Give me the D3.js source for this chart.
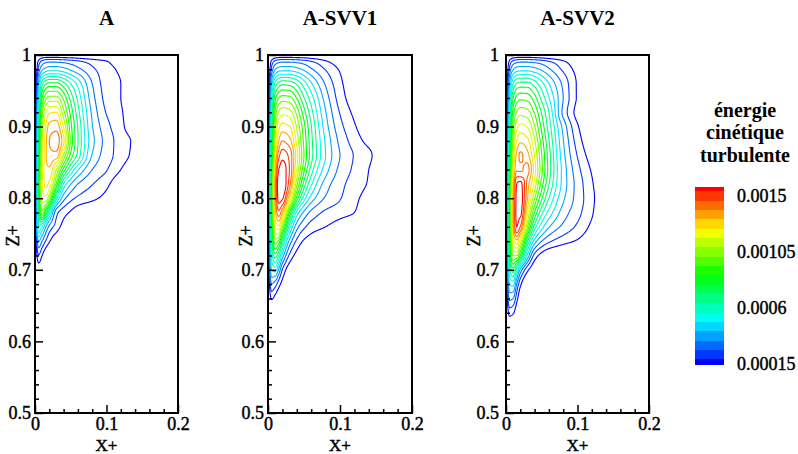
<!DOCTYPE html>
<html><head><meta charset="utf-8">
<script src="https://cdn.jsdelivr.net/npm/d3@7"></script>
<style>
body{margin:0;background:#fff}
svg{display:block}
text{font-family:"Liberation Serif","Times New Roman",Times,serif;fill:#000}
text.reg{stroke:#000;stroke-width:0.45px}
</style>
</head><body>
<svg id="chart" width="798" height="454"></svg>
<script>
// ---------------- DATA ----------------
const panelTitles = ["A", "A-SVV1", "A-SVV2"];
const xCols = [0, 0.005, 0.01, 0.015, 0.02, 0.03, 0.04, 0.05, 0.06, 0.08, 0.10, 0.12, 0.14, 0.16];
const zRows = [0.60, 0.62, 0.64, 0.66, 0.68, 0.70, 0.72, 0.74, 0.76, 0.78, 0.80, 0.82, 0.84, 0.86, 0.88, 0.90, 0.92, 0.94, 0.96, 0.98, 0.99, 1.00];
// turbulent kinetic energy, units of 1e-5, one row per zRows entry
const kA = [
 [0,0,0,0,0,0,0,0,0,0,0,0,0,0],
 [0,0,0,0,0,0,0,0,0,0,0,0,0,0],
 [0,1,1,0,0,0,0,0,0,0,0,0,0,0],
 [0,2,2,1,0,0,0,0,0,0,0,0,0,0],
 [0,4,3,2,1,0,0,0,0,0,0,0,0,0],
 [0,10,7,4,2,0,0,0,0,0,0,0,0,0],
 [0,22,15,9,5,2,0,0,0,0,0,0,0,0],
 [0,38,30,22,16,8,4,2,1,0,0,0,0,0],
 [0,60,52,38,28,19,12,8,5,2,1,0,0,0],
 [0,62,95,75,55,25,18,14,10,6,3,1,0,0],
 [0,70,108,110,98,55,33,25,21,17,12,5,1,0],
 [0,72,112,122,118,88,52,38,30,23,17,8,3,0],
 [0,70,110,125,126,105,80,60,46,30,23,15,6,1],
 [0,68,108,126,133,132,104,80,65,37,26,19,12,3],
 [0,65,105,125,135,139,122,88,68,40,27,19,13,3],
 [0,62,100,120,130,132,112,85,67,38,25,17,9,2],
 [0,58,95,112,119,120,100,80,63,36,22,16,8,2],
 [0,50,82,95,100,100,88,72,58,33,20,15,6,1],
 [0,40,65,74,77,77,70,60,50,30,19,15,5,1],
 [0,25,36,40,42,42,40,36,32,24,18,13,4,0],
 [0,18,26,29,30,30,29,27,25,20,16,9,2,0],
 [0,4,6,7,7,7,6,6,5,4,3,1,0,0]
];
const kSVV1 = [
 [0,0,0,0,0,0,0,0,0,0,0,0,0,0],
 [0,1,1,0,0,0,0,0,0,0,0,0,0,0],
 [0,6,4,3,2,0,0,0,0,0,0,0,0,0],
 [0,16,12,8,5,2,0,0,0,0,0,0,0,0],
 [0,30,26,18,12,5,2,1,0,0,0,0,0,0],
 [0,45,48,36,22,10,5,3,2,1,0,0,0,0],
 [0,55,72,60,42,21,12,7,5,3,1,0,0,0],
 [0,62,95,88,66,35,21,14,11,7,4,2,0,0],
 [0,68,112,118,98,56,33,24,19,15,11,7,3,0],
 [0,72,125,140,128,82,50,36,28,21,18,15,8,1],
 [0,76,130,153,151,120,80,56,42,29,23,17,11,2],
 [0,78,132,155,156,138,100,72,54,34,25,19,14,3],
 [0,72,124,150,154,142,112,84,64,41,28,21,15,4],
 [0,68,116,140,147,140,116,90,71,45,30,22,17,6],
 [0,64,108,128,135,130,110,88,70,44,28,19,12,3],
 [0,60,100,118,123,120,104,85,68,41,25,16,8,1],
 [0,56,92,106,110,108,95,78,63,38,22,13,5,0],
 [0,50,80,90,93,92,82,68,56,34,19,10,3,0],
 [0,40,62,70,73,72,66,56,46,29,17,8,2,0],
 [0,25,37,41,42,42,40,36,31,22,14,6,1,0],
 [0,18,26,29,30,30,29,27,24,17,10,4,1,0],
 [0,4,6,7,7,7,6,6,5,3,1,0,0,0]
];
const kSVV2 = [
 [0,0,0,0,0,0,0,0,0,0,0,0,0,0],
 [0,7,6,3,1,0,0,0,0,0,0,0,0,0],
 [0,18,16,9,4,1,0,0,0,0,0,0,0,0],
 [0,32,30,18,9,3,0,0,0,0,0,0,0,0],
 [0,45,48,30,17,6,2,0,0,0,0,0,0,0],
 [0,58,72,55,36,17,8,3,1,0,0,0,0,0],
 [0,66,98,98,82,44,20,12,8,5,2,0,0,0],
 [0,70,115,125,110,68,42,30,24,18,14,8,2,0],
 [0,72,128,150,142,98,64,48,38,28,21,13,4,0],
 [0,74,130,152,152,115,82,62,50,34,25,16,6,0],
 [0,74,128,152,154,128,98,76,60,39,27,17,7,0],
 [0,72,124,150,152,132,110,86,68,42,27,16,6,0],
 [0,68,114,134,134,137,116,92,72,42,25,14,5,0],
 [0,64,108,130,136,130,112,90,71,40,22,11,3,0],
 [0,60,100,120,126,122,106,86,68,38,19,8,2,0],
 [0,56,94,110,115,112,98,80,64,35,16,6,1,0],
 [0,52,86,98,102,100,89,74,60,28,12,4,0,0],
 [0,46,75,85,88,87,78,65,53,30,14,5,0,0],
 [0,38,60,68,70,70,64,55,45,28,14,5,0,0],
 [0,25,37,41,42,42,40,36,31,21,12,4,0,0],
 [0,18,26,29,30,30,29,27,24,17,9,3,0,0],
 [0,4,6,7,7,7,6,5,4,2,1,0,0,0]
];
const kUnit = 1e-5;
const levels = d3.range(19).map(i => 0.00015 + i * 0.000075);
const legendTicks = [0.00015, 0.0006, 0.00105, 0.0015];
const legendTitle = ["énergie", "cinétique", "turbulente"];
const xTicks = [0, 0.1, 0.2];
const xMinor = [0.02, 0.04, 0.06, 0.08, 0.12, 0.14, 0.16, 0.18];
const zTicks = [0.5, 0.6, 0.7, 0.8, 0.9, 1];
const zMinor = [0.52, 0.54, 0.56, 0.58, 0.62, 0.64, 0.66, 0.68, 0.72, 0.74, 0.76, 0.78, 0.82, 0.84, 0.86, 0.88, 0.92, 0.94, 0.96, 0.98];
const xLabel = "X+", zLabel = "Z+";

// ---------------- LAYOUT ----------------
const svg = d3.select("#chart");
const plotTop = 55, plotBottom = 413;
const panels = [
  {left: 35, right: 178, zlabX: 14, data: kA},
  {left: 268, right: 412, zlabX: 247, data: kSVV1},
  {left: 506, right: 649, zlabX: 475, data: kSVV2}
];
const rainbow = d3.scaleLinear().domain([0, 0.25, 0.5, 0.75, 1])
  .range(["#0000ff", "#00ffff", "#00ff00", "#ffff00", "#ff0000"]).clamp(true);
const levelColor = i => rainbow(i / 18);

// monotone cubic interpolator (rendering only)
function pchip(xs, ys) {
  const n = xs.length, h = [], d = [], m = new Array(n);
  for (let i = 0; i < n - 1; i++) { h[i] = xs[i + 1] - xs[i]; d[i] = (ys[i + 1] - ys[i]) / h[i]; }
  m[0] = d[0]; m[n - 1] = d[n - 2];
  for (let i = 1; i < n - 1; i++) {
    if (d[i - 1] * d[i] <= 0) m[i] = 0;
    else { const w1 = 2 * h[i] + h[i - 1], w2 = h[i] + 2 * h[i - 1]; m[i] = (w1 + w2) / (w1 / d[i - 1] + w2 / d[i]); }
  }
  return x => {
    if (x <= xs[0]) return ys[0];
    if (x >= xs[n - 1]) return ys[n - 1];
    let i = d3.bisectRight(xs, x) - 1; if (i > n - 2) i = n - 2;
    const t = (x - xs[i]) / h[i], t2 = t * t, t3 = t2 * t;
    return (2 * t3 - 3 * t2 + 1) * ys[i] + (t3 - 2 * t2 + t) * h[i] * m[i] +
           (-2 * t3 + 3 * t2) * ys[i + 1] + (t3 - t2) * h[i] * m[i + 1];
  };
}

const gdx = 0.0005, gdz = 0.002, gz0 = 0.5;
const nx = Math.round(0.2 / gdx) + 1, nz = Math.round(0.5 / gdz) + 1;

function fieldGrid(rows) {
  const fineRows = rows.map(r => { const f = pchip(xCols, r.map(v => v * kUnit)); return d3.range(nx).map(i => f(i * gdx)); });
  const vals = new Float64Array(nx * nz);
  for (let i = 0; i < nx; i++) {
    const f = pchip(zRows, fineRows.map(r => r[i]));
    for (let j = 0; j < nz; j++) vals[j * nx + i] = Math.max(0, f(gz0 + j * gdz));
  }
  return vals;
}

panels.forEach((p, pi) => {
  const x = d3.scaleLinear().domain([0, 0.2]).range([p.left, p.right]);
  const y = d3.scaleLinear().domain([0.5, 1]).range([plotBottom, plotTop]);
  const g = svg.append("g");
  const clipId = "clip" + pi;
  svg.append("clipPath").attr("id", clipId).append("rect")
    .attr("x", p.left).attr("y", plotTop).attr("width", p.right - p.left).attr("height", plotBottom - plotTop);

  const vals = fieldGrid(p.data);
  const contours = d3.contours().size([nx, nz]).thresholds(levels)(vals);
  const proj = d3.geoTransform({point(cx, cy) { this.stream.point(x((cx - 0.5) * gdx), y(gz0 + (cy - 0.5) * gdz)); }});
  const path = d3.geoPath(proj);
  g.append("g").attr("clip-path", `url(#${clipId})`)
    .selectAll("path").data(contours).join("path")
    .attr("d", path).attr("fill", "none")
    .attr("stroke", (d, i) => levelColor(i)).attr("stroke-width", 1.1).attr("stroke-linejoin", "round");

  const ax = g.append("g").attr("transform", `translate(0,${plotBottom})`)
    .call(d3.axisBottom(x).tickValues(xTicks).tickSize(-8).tickPadding(4).tickFormat(d => String(d)));
  const axm = g.append("g").attr("transform", `translate(0,${plotBottom})`)
    .call(d3.axisBottom(x).tickValues(xMinor).tickSize(-4).tickFormat(""));
  const ay = g.append("g").attr("transform", `translate(${p.left},0)`)
    .call(d3.axisLeft(y).tickValues(zTicks).tickSize(-8).tickPadding(pi === 2 ? 7 : 4).tickFormat(d => String(d)));
  const aym = g.append("g").attr("transform", `translate(${p.left},0)`)
    .call(d3.axisLeft(y).tickValues(zMinor).tickSize(-4).tickFormat(""));
  [ax, axm, ay, aym].forEach(a => {
    a.attr("font-family", null).attr("font-size", null);
    a.select(".domain").remove();
    a.selectAll("line").attr("stroke", "#000").attr("stroke-width", 1.5);
    a.selectAll("text").attr("class", "reg").style("font-size", "18px").attr("fill", "#000");
  });

  g.append("rect").attr("x", p.left).attr("y", plotTop).attr("width", p.right - p.left).attr("height", plotBottom - plotTop)
    .attr("fill", "none").attr("stroke", "#000").attr("stroke-width", 2);

  g.append("text").attr("class", "reg").attr("x", (p.left + p.right) / 2).attr("y", 451).attr("text-anchor", "middle")
    .style("font-size", "17px").text(xLabel);
  g.append("text").attr("class", "reg").attr("transform", `translate(${p.zlabX + 5},236) rotate(-90)`).attr("text-anchor", "middle")
    .style("font-size", "18px").text(zLabel);
  g.append("text").attr("x", (p.left + p.right) / 2).attr("y", 25).attr("text-anchor", "middle")
    .style("font-size", "21px").style("font-weight", "bold").text(panelTitles[pi]);
});

// ---------------- LEGEND ----------------
const lg = svg.append("g");
legendTitle.forEach((t, i) => {
  lg.append("text").attr("x", 745).attr("y", 117 + i * 22.3).attr("text-anchor", "middle")
    .style("font-size", "20px").style("font-weight", "bold").text(t);
});
const ly = d3.scaleLinear().domain([0.00015, 0.0015]).range([364, 196]);
const step = 0.000075, half = (ly(0) - ly(step)) / 2;
const barTop = 187, barBot = 365;
const bands = d3.range(20).map(j => 0.00015 + j * step);
lg.selectAll("rect.band").data(bands).join("rect").attr("class", "band")
  .attr("x", 695).attr("width", 29)
  .attr("y", d => Math.max(barTop, ly(d) - half))
  .attr("height", d => Math.min(barBot, ly(d) + half) - Math.max(barTop, ly(d) - half))
  .attr("fill", (d, j) => rainbow(j / 19)).attr("shape-rendering", "crispEdges");
lg.selectAll("text.tk").data(legendTicks).join("text").attr("class", "tk reg")
  .attr("x", 737).attr("y", d => ly(d)).attr("dy", "0.35em")
  .style("font-size", "18px").text(d => String(d));
</script>
</body></html>
